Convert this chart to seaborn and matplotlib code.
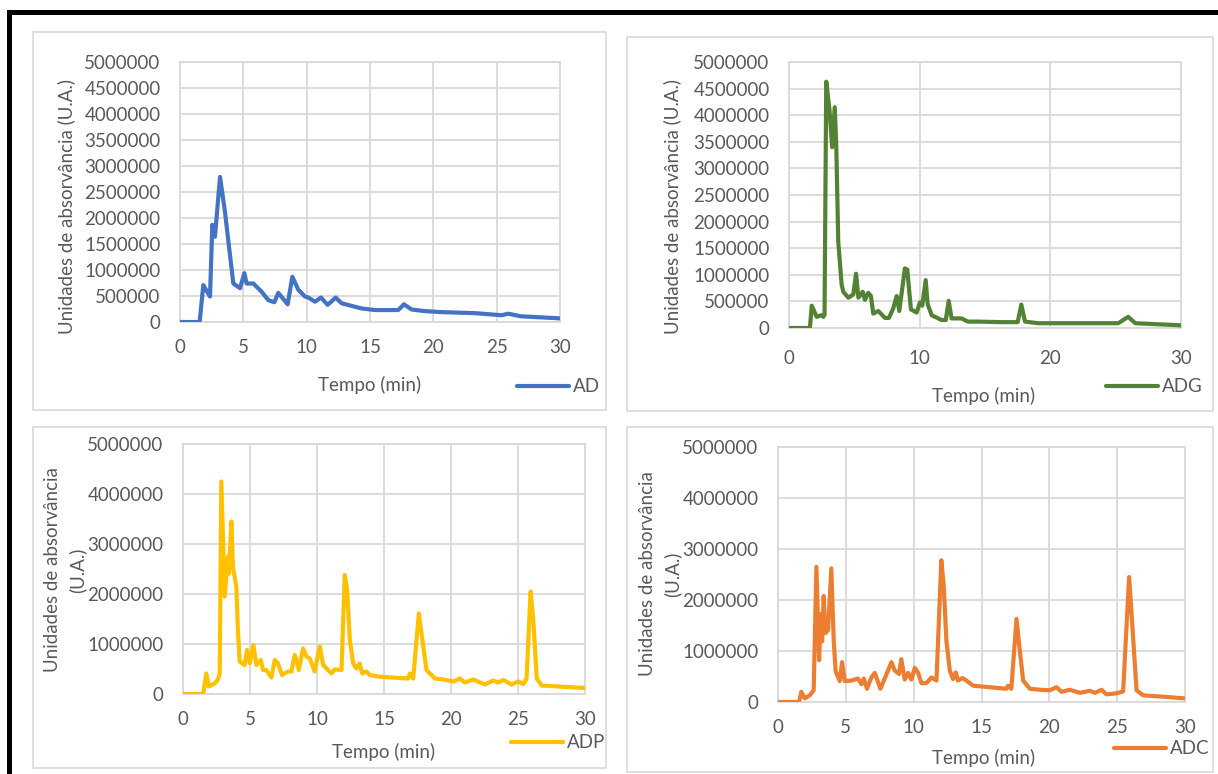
import numpy as np
import pandas as pd
import seaborn as sns
import matplotlib.pyplot as plt
from matplotlib.patches import Rectangle

# Retention time (min) and absorbance (U.A.) for each extract
ad_t = [0, 1.55, 1.84, 2.1, 2.37, 2.55, 2.76, 3.16, 3.55, 3.82, 4.21, 4.74, 5.08, 5.26,
        5.79, 6.45, 6.97, 7.45, 7.76, 8.5, 8.87, 9.34, 9.87, 10.13, 10.66, 11.13, 11.66,
        12.29, 12.76, 14.34, 15.4, 17.23, 17.68, 18.29, 19.3, 20.66, 23.3, 25.4, 25.9,
        26.9, 30]
ad_v = [0, 0, 710000, 600000, 490000, 1870000, 1640000, 2790000, 2120000, 1550000,
        740000, 650000, 940000, 740000, 740000, 580000, 420000, 380000, 560000, 340000,
        870000, 620000, 490000, 470000, 390000, 470000, 330000, 470000, 360000, 260000,
        230000, 230000, 340000, 240000, 210000, 190000, 170000, 130000, 160000, 110000,
        70000]

adg_t = [0, 1.6, 1.74, 2.12, 2.45, 2.63, 2.72, 2.85, 3.1, 3.3, 3.5, 3.62, 3.77, 4.03,
         4.16, 4.54, 4.92, 5.13, 5.31, 5.64, 5.81, 6.07, 6.27, 6.45, 6.83, 7.34, 7.65,
         7.98, 8.24, 8.44, 8.87, 9.05, 9.33, 9.77, 10.02, 10.2, 10.46, 10.61, 10.92,
         11.68, 12.0, 12.22, 12.44, 13.2, 13.7, 14.5, 16.3, 17.5, 17.78, 18.06, 19.08,
         21.6, 25.2, 25.96, 26.5, 30]
adg_v = [0, 0, 420000, 210000, 240000, 210000, 250000, 4630000, 4100000, 3400000,
         4150000, 3400000, 1620000, 810000, 680000, 570000, 630000, 1020000, 570000,
         680000, 530000, 660000, 600000, 270000, 320000, 190000, 190000, 370000, 600000,
         320000, 1120000, 1100000, 350000, 290000, 480000, 420000, 900000, 450000, 240000,
         150000, 150000, 510000, 180000, 180000, 120000, 120000, 110000, 110000, 440000,
         120000, 90000, 90000, 90000, 210000, 90000, 50000]

adp_t = [0, 1.5, 1.74, 1.92, 2.36, 2.61, 2.74, 2.86, 3.11, 3.36, 3.43, 3.61, 3.73, 3.98,
         4.11, 4.23, 4.6, 4.78, 4.98, 5.25, 5.48, 5.8, 5.97, 6.22, 6.6, 6.85, 7.09, 7.39,
         7.84, 8.09, 8.34, 8.54, 8.64, 8.96, 9.21, 9.46, 9.83, 10.21, 10.46, 10.83,
         11.08, 11.33, 11.83, 12.07, 12.25, 12.45, 12.7, 12.94, 13.19, 13.37, 13.69,
         13.94, 14.56, 15.56, 16.8, 16.93, 17.18, 17.6, 17.8, 18.17, 18.8, 19.42, 20.17,
         20.66, 21.04, 21.66, 22.53, 23.15, 23.52, 23.9, 24.52, 25.02, 25.4, 25.64,
         25.94, 26.14, 26.4, 26.77, 28.0, 30]
adp_v = [0, 0, 410000, 150000, 210000, 290000, 410000, 4250000, 1950000, 2750000,
         2410000, 3450000, 2530000, 2150000, 1210000, 650000, 580000, 880000, 620000,
         980000, 580000, 680000, 480000, 480000, 330000, 680000, 610000, 380000, 450000,
         450000, 780000, 630000, 480000, 910000, 750000, 710000, 450000, 950000, 580000,
         480000, 410000, 490000, 480000, 2380000, 2080000, 1080000, 610000, 510000,
         610000, 410000, 450000, 380000, 350000, 330000, 310000, 410000, 310000, 1610000,
         1210000, 480000, 310000, 290000, 250000, 310000, 230000, 290000, 190000, 270000,
         230000, 280000, 190000, 250000, 200000, 310000, 2050000, 1480000, 310000,
         170000, 150000, 120000]

adc_t = [0, 1.55, 1.72, 1.97, 2.34, 2.63, 2.83, 3.03, 3.15, 3.25, 3.37, 3.49, 3.69,
         3.93, 4.11, 4.25, 4.55, 4.72, 4.92, 5.41, 5.9, 6.15, 6.32, 6.56, 6.88, 7.13,
         7.55, 7.99, 8.36, 8.6, 8.92, 9.09, 9.34, 9.59, 9.83, 10.08, 10.33, 10.57, 10.94,
         11.31, 11.68, 12.04, 12.22, 12.41, 12.66, 12.9, 13.1, 13.27, 13.59, 13.89,
         14.38, 15.6, 16.84, 16.96, 17.2, 17.58, 17.77, 18.07, 18.56, 19.3, 20.04, 20.53,
         20.9, 21.5, 22.25, 22.99, 23.36, 23.85, 24.2, 24.95, 25.44, 25.88, 26.06, 26.43,
         26.92, 28.6, 30]
adc_v = [0, 0, 200000, 70000, 130000, 230000, 2650000, 820000, 1720000, 1190000,
         2080000, 1350000, 1410000, 2620000, 1190000, 600000, 410000, 780000, 410000,
         420000, 460000, 350000, 460000, 260000, 480000, 570000, 260000, 540000, 780000,
         620000, 550000, 840000, 440000, 570000, 440000, 670000, 570000, 370000, 370000,
         480000, 420000, 2780000, 2260000, 1210000, 620000, 450000, 580000, 420000,
         470000, 420000, 320000, 290000, 260000, 320000, 260000, 1630000, 1140000, 420000,
         260000, 240000, 230000, 290000, 200000, 240000, 180000, 220000, 180000, 240000,
         150000, 170000, 210000, 2450000, 1730000, 230000, 130000, 100000, 70000]

series_names = ["AD", "ADG", "ADP", "ADC"]
series_times = [ad_t, adg_t, adp_t, adc_t]
series_values = [ad_v, adg_v, adp_v, adc_v]

x_label = "Tempo (min)"
y_label_one_line = "Unidades de absorvância (U.A.)"
y_label_two_lines = "Unidades de absorvância\n(U.A.)"

sns.set_theme(style="white")
plt.rcParams["font.family"] = ["Lato", "DejaVu Sans"]

W, H = 1218, 774
fig = plt.figure(figsize=(W / 100, H / 100), dpi=100)
fig.patch.set_facecolor("white")

TEXT = "#595959"
GRID = "#d9d9d9"
FS = 13.5


def frac_rect(l, t, r, b):
    return [l / W, 1 - b / H, (r - l) / W, (b - t) / H]


def fpt(x, y):
    return x / W, 1 - y / H


panels = [
    dict(plot=(180, 62, 560, 322), box=(33, 32, 606, 410), xstep=5, ystep=500000,
         color="#4472C4", ylab=y_label_one_line, ylab_at=(66, 207), xlab_at=(370, 385),
         leg_at=(517, 387), xpad=12),
    dict(plot=(789, 62, 1181, 328), box=(627, 37, 1213, 411), xstep=10, ystep=500000,
         color="#548235", ylab=y_label_one_line, ylab_at=(672, 206), xlab_at=(984, 396),
         leg_at=(1106, 387), xpad=16),
    dict(plot=(183, 444, 585, 694), box=(33, 427, 606, 768), xstep=5, ystep=1000000,
         color="#FFC000", ylab=y_label_two_lines, ylab_at=(65, 570), xlab_at=(384, 752),
         leg_at=(511, 743), xpad=12),
    dict(plot=(778, 447, 1185, 702), box=(627, 427, 1213, 772), xstep=5, ystep=1000000,
         color="#ED7D31", ylab=y_label_two_lines, ylab_at=(660, 574), xlab_at=(984, 758),
         leg_at=(1114, 749), xpad=12),
]

# Chart frames behind each plot
for p in panels:
    l, t, r, b = p["box"]
    fig.patches.append(Rectangle((l / W, 1 - b / H), (r - l) / W, (b - t) / H,
                                 transform=fig.transFigure, facecolor="white",
                                 edgecolor=GRID, linewidth=1.2, zorder=-5))

# Outer black frame (top and left edges)
fig.patches.append(Rectangle((8 / W, 1 - 15 / H), (W - 8) / W, 5 / H,
                             transform=fig.transFigure, facecolor="black",
                             edgecolor="none", zorder=5))
fig.patches.append(Rectangle((7 / W, 0), 5 / W, 1 - 10 / H,
                             transform=fig.transFigure, facecolor="black",
                             edgecolor="none", zorder=5))

for name, t_vals, v_vals, p in zip(series_names, series_times, series_values, panels):
    ax = fig.add_axes(frac_rect(*p["plot"]))
    ax.set_facecolor("white")
    df = pd.DataFrame({"Tempo": t_vals, "Abs": v_vals})
    sns.lineplot(data=df, x="Tempo", y="Abs", ax=ax, color=p["color"], linewidth=3.0,
                 label=name, estimator=None, solid_capstyle="round",
                 solid_joinstyle="round", zorder=3)
    ax.set_xlim(0, 30)
    ax.set_ylim(0, 5000000)
    xt = np.arange(0, 31, p["xstep"])
    yt = np.arange(0, 5000001, p["ystep"])
    ax.set_xticks(xt)
    ax.set_xticklabels([str(int(v)) for v in xt])
    ax.set_yticks(yt)
    ax.set_yticklabels([str(int(v)) for v in yt])
    ax.grid(True, color=GRID, linewidth=1.3)
    ax.set_axisbelow(True)
    for s in ax.spines.values():
        s.set_color(GRID)
        s.set_linewidth(1.3)
    ax.tick_params(axis="both", length=0, labelsize=FS, colors=TEXT)
    ax.tick_params(axis="x", pad=p["xpad"])
    ax.tick_params(axis="y", pad=14)

    ax.set_xlabel(x_label, fontsize=FS, color=TEXT)
    ax.xaxis.set_label_coords(*fpt(*p["xlab_at"]), transform=fig.transFigure)
    ax.xaxis.label.set_verticalalignment("center")
    ax.set_ylabel(p["ylab"], fontsize=FS, color=TEXT, linespacing=1.45)
    ax.yaxis.set_label_coords(*fpt(*p["ylab_at"]), transform=fig.transFigure)
    ax.yaxis.label.set_verticalalignment("center")
    ax.yaxis.label.set_horizontalalignment("center")

    leg = ax.legend(loc="center left", bbox_to_anchor=fpt(*p["leg_at"]),
                    bbox_transform=fig.transFigure, frameon=False, fontsize=FS,
                    handlelength=2.75, handletextpad=0.25, borderpad=0,
                    borderaxespad=0)
    for txt in leg.get_texts():
        txt.set_color(TEXT)
    for h in leg.get_lines():
        h.set_linewidth(3.0)

fig.savefig("out.png", dpi=100, facecolor="white")
